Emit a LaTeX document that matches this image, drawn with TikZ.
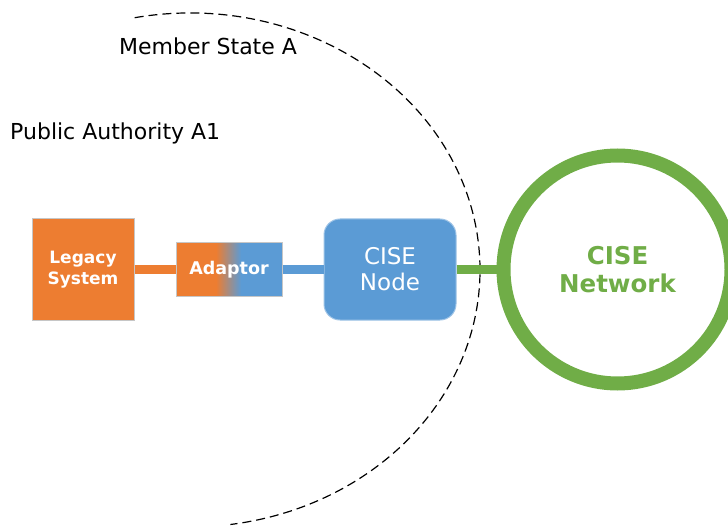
\documentclass[tikz,border=0pt]{standalone}
\usepackage{fontspec}
\setmainfont{DejaVu Sans}
\usepackage{tikz}
\usetikzlibrary{positioning}
\definecolor{cseorange}{HTML}{ED7D31}
\definecolor{cseblue}{HTML}{5B9BD5}
\definecolor{csegreen}{HTML}{70AD47}
\begin{document}
\begin{tikzpicture}[x=1pt,y=1pt,
	box/.style={draw=gray!45,line width=1pt,text=white,align=center},
	link/.style={line width=9pt},
	label/.style={inner sep=0pt,anchor=base west,font=\fontsize{22}{26}\selectfont}]
\useasboundingbox (0,0) rectangle (728,528);
% member state border
\draw[dash pattern=on 9pt off 5pt,line width=1.2pt] (190,258) ++(101:290pt and 257pt)
	arc[start angle=101,end angle=-82,x radius=290pt,y radius=257pt];
\node [label] (ms) at (119,473) {Member State A};
\node [label] (pa) at (10,388) {Public Authority A1};
% systems
\node [box,fill=cseorange,minimum width=102pt,minimum height=101pt,
	font=\bfseries\fontsize{17}{20.7}\selectfont] (legacy) at (83,258.5) {Legacy\\System};
\node [box,minimum width=106pt,minimum height=54pt,right=41pt of legacy,
	font=\bfseries\fontsize{17.5}{20}\selectfont,
	path picture={
		\fill[cseorange] (path picture bounding box.south west) rectangle ([xshift=40pt]path picture bounding box.north west);
		\shade[left color=cseorange,right color=cseblue] ([xshift=40pt]path picture bounding box.south west) rectangle ([xshift=65pt]path picture bounding box.north west);
		\fill[cseblue] ([xshift=65pt]path picture bounding box.south west) rectangle (path picture bounding box.north east);
	}] (adaptor) {Adaptor};
\node [box,draw=cseblue!60!white,fill=cseblue,rounded corners=16pt,minimum width=132pt,minimum height=101pt,
	right=41pt of adaptor,font=\fontsize{23}{26}\selectfont] (cise) {CISE\\Node};
\node [circle,draw=csegreen,line width=14pt,minimum size=228pt,right=40pt of cise,
	text=csegreen,align=center,font=\bfseries\fontsize{24.5}{28.5}\selectfont] (net) {CISE\\Network};
% links
\draw [link,cseorange] (legacy) -- (adaptor);
\draw [link,cseblue] (adaptor) -- (cise);
\draw [link,csegreen] (cise) -- (net);
\end{tikzpicture}
\end{document}
